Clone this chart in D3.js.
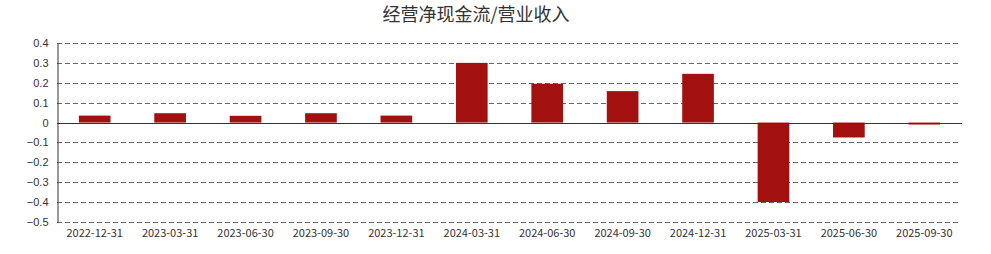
<!DOCTYPE html>
<html>
<head>
<meta charset="utf-8">
<script src="https://cdn.jsdelivr.net/npm/d3@7"></script>
<style>
  body { margin: 0; background: #fff; }
  svg { display: block; font-family: "Microsoft YaHei", "Noto Sans CJK SC", sans-serif; }
</style>
</head>
<body>
<script>
const categories = ["2022-12-31", "2023-03-31", "2023-06-30", "2023-09-30", "2023-12-31", "2024-03-31",
  "2024-06-30", "2024-09-30", "2024-12-31", "2025-03-31", "2025-06-30", "2025-09-30"];
const values = [0.035, 0.047, 0.034, 0.047, 0.035, 0.30, 0.195, 0.158, 0.245, -0.40, -0.075, -0.01];
const yTicks = [0.4, 0.3, 0.2, 0.1, 0, -0.1, -0.2, -0.3, -0.4, -0.5];

const width = 991, height = 254;
const margin = {top: 43, right: 29, bottom: 32, left: 57};

const svg = d3.select("body").append("svg")
  .attr("width", width)
  .attr("height", height);

const x = d3.scaleBand()
  .domain(categories)
  .range([margin.left, width - margin.right]);

const y = d3.scaleLinear()
  .domain([-0.5, 0.4])
  .range([height - margin.bottom, margin.top]);

// title
svg.append("text")
  .attr("x", 476)
  .attr("y", 21)
  .attr("text-anchor", "middle")
  .style("font-size", "18px")
  .style("fill", "#333")
  .text("经营净现金流/营业收入");

// dashed grid
svg.append("g")
  .selectAll("line")
  .data(yTicks.filter(d => d !== 0))
  .join("line")
    .attr("x1", margin.left)
    .attr("x2", width - margin.right - 2)
    .attr("y1", d => Math.round(y(d)) + 0.5)
    .attr("y2", d => Math.round(y(d)) + 0.5)
    .attr("stroke", "#666")
    .attr("stroke-dasharray", "5,3");

// bars
const bw = x.step() * 0.42;
svg.append("g")
  .selectAll("rect")
  .data(values)
  .join("rect")
    .attr("x", (d, i) => x(categories[i]) + (x.step() - bw) / 2)
    .attr("y", d => y(Math.max(0, d)))
    .attr("width", bw)
    .attr("height", d => Math.abs(y(d) - y(0)))
    .attr("fill", "#a31010");

// zero line
svg.append("line")
  .attr("x1", margin.left)
  .attr("x2", width - margin.right)
  .attr("y1", Math.round(y(0)) + 0.5)
  .attr("y2", Math.round(y(0)) + 0.5)
  .attr("stroke", "#333");

// y axis
const yAxis = svg.append("g")
  .attr("transform", `translate(${margin.left + 0.5},0)`)
  .call(d3.axisLeft(y).tickValues(yTicks).tickSize(0).tickPadding(9).tickFormat(d => d3.format("")(+d.toFixed(1))));
yAxis.select(".domain").attr("stroke", "#333");
yAxis.selectAll("text").style("font-size", "11px").style("fill", "#333");

// x labels
svg.append("g")
  .selectAll("text")
  .data(categories)
  .join("text")
    .attr("x", d => x(d) + x.step() / 2)
    .attr("y", 237)
    .attr("text-anchor", "middle")
    .style("font-size", "11px")
    .style("fill", "#333")
    .text(d => d);
</script>
</body>
</html>
